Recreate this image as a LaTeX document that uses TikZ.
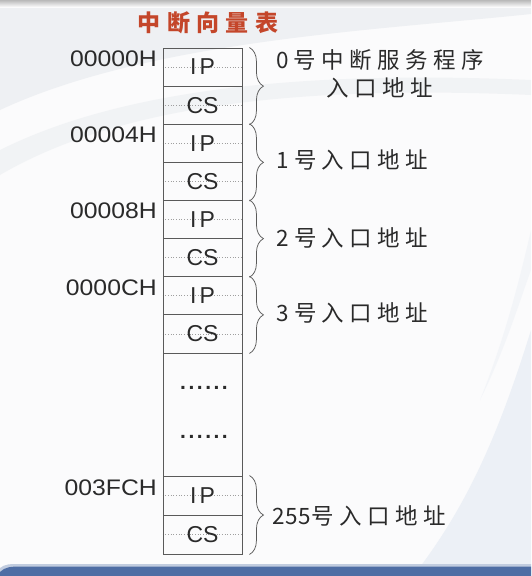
\documentclass[tikz,border=0pt]{standalone}
\usepackage{fontspec}
\setmainfont{Liberation Sans}
\newfontfamily\lab{Liberation Sans}
\newfontfamily\dotf{Liberation Sans}[LetterSpace=12]
\newfontfamily\cjk{Noto Sans CJK SC}[LetterSpace=24]
\newfontfamily\cjkd{Noto Sans CJK SC}[LetterSpace=4]
\newfontfamily\cjkt{Noto Sans CJK SC}[LetterSpace=28]
\usetikzlibrary{decorations.pathreplacing,backgrounds}
\definecolor{bgc}{HTML}{FBFBFC}
\definecolor{swoosh}{HTML}{EEF0F3}
\definecolor{swooshb}{HTML}{ECF0F6}
\definecolor{barblue}{HTML}{4E6DA4}
\definecolor{linegray}{HTML}{5A5A5A}
\definecolor{txt}{HTML}{2A2A2A}
\definecolor{titlered}{HTML}{C4462A}
\begin{document}
\begin{tikzpicture}[x=1pt,y=-1pt,
  cell/.style={draw=linegray, line width=0.9pt, minimum width=79pt, minimum height=38.125pt,
    inner sep=0pt, text=txt, font=\lab\fontsize{23}{23}\selectfont},
  addr/.style={anchor=east, inner sep=0pt, text=txt, xscale=1.1,
    font=\lab\fontsize{22.5}{22.5}\selectfont},
  cn/.style={anchor=west, inner sep=0pt, text=txt, font=\cjk\fontsize{22.5}{27.5}\selectfont},
  brc/.style={draw=linegray, line width=0.75pt, decorate, decoration={brace, amplitude=14pt}},
  dotline/.style={draw=gray!75, dotted, line width=0.7pt},
  dotsn/.style={inner sep=0pt, text=txt, font=\dotf\bfseries\fontsize{21}{21}\selectfont}]
\useasboundingbox (0,0) rectangle (531,576);
\begin{scope}[on background layer]
  \fill[bgc] (0,0) rectangle (531,576);
  \fill[swoosh] (0,6) -- (531,6) -- (531,14) .. controls (380,30) and (150,40) .. (0,110) -- cycle;
  \fill[swoosh, opacity=0.7] (0,150) .. controls (120,90) and (300,70) .. (531,80) -- (531,95) .. controls (300,85) and (120,105) .. (0,175) -- cycle;
  \fill[swooshb] (531,330) .. controls (500,430) and (470,500) .. (420,567) -- (531,567) -- cycle;
  \fill[swooshb, opacity=0.5] (531,230) .. controls (515,300) and (500,350) .. (480,400) .. controls (505,350) and (520,300) .. (531,270) -- cycle;
  \shade[top color=gray!55, bottom color=bgc] (0,0) rectangle (531,7);
  \fill[barblue!35] (0,576) -- (0,568) .. controls (5,564) and (10,564) .. (20,564) -- (531,564) -- (531,576) -- cycle;
  \fill[barblue] (0,576) -- (0,572) .. controls (5,567) and (10,566.5) .. (22,566.5) -- (531,566.5) -- (531,576) -- cycle;
\end{scope}

% title
\node[inner sep=0pt, text=titlered, font=\cjkt\bfseries\fontsize{23}{23}\selectfont] (title) at (208,23) {中断向量表};

% cells
\node[cell] (r0) at (202.5,67.06) {I\hspace{3pt}P};
\node[cell] (r1) at (202.5,105.19) {CS};
\node[cell] (r2) at (202.5,143.31) {I\hspace{3pt}P};
\node[cell] (r3) at (202.5,181.44) {CS};
\node[cell] (r4) at (202.5,219.56) {I\hspace{3pt}P};
\node[cell] (r5) at (202.5,257.69) {CS};
\node[cell] (r6) at (202.5,295.81) {I\hspace{3pt}P};
\node[cell] (r7) at (202.5,333.94) {CS};
\node[cell, minimum height=123pt] (blank) at (202.5,414.5) {};
\node[cell, minimum height=39pt] (r8) at (202.5,495.5) {I\hspace{3pt}P};
\node[cell, minimum height=39pt] (r9) at (202.5,534.5) {CS};

\node[dotsn] (d1) at (204,388) {......};
\node[dotsn] (d2) at (204,437) {......};

\begin{scope}[on background layer]
  \foreach \r in {r0,r1,r2,r3,r4,r5,r6,r7,r8,r9}
    \draw[dotline] (\r.west) -- (\r.east);
\end{scope}

% addresses
\node[addr] (a0) at (157,59) {00000H};
\node[addr] (a1) at (157,135) {00004H};
\node[addr] (a2) at (157,211) {00008H};
\node[addr] (a3) at (157,288) {0000CH};
\node[addr] (a4) at (157,488) {003FCH};

% braces
\draw[brc] ([xshift=7pt]r0.north east) -- ([xshift=7pt]r1.south east);
\draw[brc] ([xshift=7pt]r2.north east) -- ([xshift=7pt]r3.south east);
\draw[brc] ([xshift=7pt]r4.north east) -- ([xshift=7pt]r5.south east);
\draw[brc] ([xshift=7pt]r6.north east) -- ([xshift=7pt]r7.south east);
\draw[brc] ([xshift=7pt]r8.north east) -- ([xshift=7pt]r9.south east);

% labels
\node[cn, anchor=center, align=center] (l0) at (380,74) {0号中断服务程序\\入口地址};
\node[cn] (l1) at (276,160) {1号入口地址};
\node[cn] (l2) at (276,238) {2号入口地址};
\node[cn] (l3) at (276,313) {3号入口地址};
\node[cn] (l4) at (272,516) {{\cjkd 255}号入口地址};
\end{tikzpicture}
\end{document}
